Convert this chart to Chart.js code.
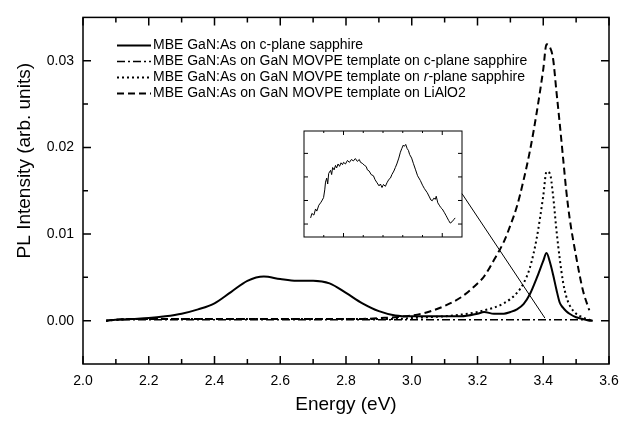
<!DOCTYPE html>
<html>
<head>
<meta charset="utf-8">
<script src="https://cdn.jsdelivr.net/npm/chart.js@4.4.1/dist/chart.umd.min.js"></script>
<style>
  html, body { margin: 0; padding: 0; background: #fff; }
  #wrap { position: relative; width: 630px; height: 423px; }
  #main { position: absolute; left: 0; top: 0; }
  #inset { position: absolute; left: 300px; top: 127px; }
</style>
</head>
<body>
<div id="wrap">
  <canvas id="main" width="630" height="423"></canvas>
  <canvas id="inset" width="166" height="114"></canvas>
</div>
<script>
// photon energy (eV), shared by the four spectra
const energy = [2.07, 2.10, 2.15, 2.20, 2.25, 2.30, 2.35, 2.40, 2.45, 2.50, 2.55, 2.60, 2.65, 2.70, 2.75,
  2.80, 2.85, 2.90, 2.95, 3.00, 3.05, 3.10, 3.15, 3.20, 3.22, 3.25, 3.28, 3.30, 3.32, 3.34, 3.36, 3.38,
  3.40, 3.41, 3.42, 3.43, 3.44, 3.45, 3.46, 3.47, 3.48, 3.50, 3.52, 3.54, 3.55];

const cPlane = [0.0000, 0.0001, 0.0002, 0.0003, 0.0005, 0.0008, 0.0013, 0.0020, 0.0033, 0.0046, 0.0051, 0.0048, 0.0046, 0.0046, 0.0043,
  0.0032, 0.0020, 0.0011, 0.0006, 0.0005, 0.0005, 0.0005, 0.0005, 0.0008, 0.0010, 0.0008, 0.0008, 0.0010, 0.0013, 0.0019, 0.0031, 0.0049,
  0.0069, 0.0078, 0.0068, 0.0053, 0.0036, 0.0021, 0.0015, 0.0011, 0.0008, 0.0004, 0.0002, 0.0000, 0.0000];

const cTemplate = [0.0000, 0.0001, 0.0001, 0.0001, 0.0001, 0.0001, 0.0001, 0.0001, 0.0001, 0.0001, 0.0001, 0.0001, 0.0001, 0.0001, 0.0001,
  0.0001, 0.0001, 0.0001, 0.0001, 0.0001, 0.0001, 0.0001, 0.0001, 0.0001, 0.0001, 0.0001, 0.0001, 0.0001, 0.0001, 0.0001, 0.0001, 0.0001,
  0.0001, 0.0001, 0.0001, 0.0001, 0.0001, 0.0001, 0.0001, 0.0001, 0.0001, 0.0001, 0.0001, 0.0001, 0.0000];

const rTemplate = [0.0000, 0.0001, 0.0002, 0.0002, 0.0002, 0.0002, 0.0002, 0.0002, 0.0002, 0.0002, 0.0002, 0.0002, 0.0002, 0.0002, 0.0002,
  0.0002, 0.0002, 0.0002, 0.0002, 0.0003, 0.0004, 0.0005, 0.0007, 0.0010, 0.0012, 0.0015, 0.0020, 0.0025, 0.0032, 0.0043, 0.0062, 0.0095,
  0.0144, 0.0172, 0.0170, 0.0144, 0.0105, 0.0072, 0.0045, 0.0028, 0.0018, 0.0008, 0.0004, 0.0001, 0.0000];

const liAlO2 = [0.0000, 0.0001, 0.0002, 0.0002, 0.0002, 0.0002, 0.0002, 0.0002, 0.0002, 0.0002, 0.0002, 0.0002, 0.0002, 0.0002, 0.0002,
  0.0002, 0.0002, 0.0003, 0.0004, 0.0006, 0.0010, 0.0017, 0.0027, 0.0043, 0.0051, 0.0070, 0.0091, 0.0110, 0.0132, 0.0162, 0.0197, 0.0240,
  0.0290, 0.0319, 0.0316, 0.0302, 0.0265, 0.0228, 0.0189, 0.0150, 0.0119, 0.0074, 0.0036, 0.0012, null];

const labels = [
  'MBE GaN:As on c-plane sapphire',
  'MBE GaN:As on GaN MOVPE template on c-plane sapphire',
  'MBE GaN:As on GaN MOVPE template on r-plane sapphire',
  'MBE GaN:As on GaN MOVPE template on LiAlO2'
];

const xMajor = [2.0, 2.2, 2.4, 2.6, 2.8, 3.0, 3.2, 3.4, 3.6];
const xMinor = [2.1, 2.3, 2.5, 2.7, 2.9, 3.1, 3.3, 3.5];
const yMajor = [0.00, 0.01, 0.02, 0.03];
const yMinor = [0.005, 0.015, 0.025];

// inset: magnified weak spectrum (arbitrary units)
const insetX = [1.667, 1.68, 1.70, 1.717, 1.73, 1.75, 1.768, 1.78, 1.798, 1.81, 1.818, 1.83, 1.84, 1.85, 1.869, 1.88,
  1.89, 1.905, 1.919, 1.93, 1.945, 1.96, 1.975, 1.99, 2.00, 2.02, 2.04, 2.06, 2.08, 2.10, 2.12, 2.14, 2.16, 2.172,
  2.19, 2.21, 2.23, 2.242, 2.26, 2.28, 2.303, 2.32, 2.34, 2.36, 2.374, 2.39, 2.405, 2.424, 2.44, 2.46, 2.475, 2.49,
  2.51, 2.525, 2.54, 2.56, 2.576, 2.59, 2.605, 2.616, 2.63, 2.645, 2.657, 2.67, 2.69, 2.707, 2.73, 2.75, 2.778,
  2.80, 2.82, 2.848, 2.87, 2.885, 2.899, 2.915, 2.93, 2.939, 2.955, 2.97, 2.985, 3.00, 3.02, 3.04, 3.051, 3.065,
  3.081, 3.10, 3.115, 3.131];
const insetY = [1.26, 1.45, 1.38, 1.64, 1.55, 1.80, 1.90, 1.98, 2.12, 2.45, 2.78, 2.95, 2.70, 3.15, 3.28, 3.10,
  3.40, 3.30, 3.49, 3.38, 3.55, 3.45, 3.60, 3.52, 3.62, 3.55, 3.70, 3.62, 3.74, 3.68, 3.78, 3.66, 3.74, 3.62,
  3.58, 3.50, 3.44, 3.30, 3.25, 3.10, 3.05, 2.88, 2.75, 2.62, 2.70, 2.55, 2.68, 2.60, 2.75, 2.90, 2.95, 3.10,
  3.25, 3.40, 3.55, 3.80, 4.05, 4.20, 4.35, 4.30, 4.38, 4.20, 4.13, 3.95, 3.80, 3.58, 3.30, 3.05, 2.85,
  2.65, 2.50, 2.33, 2.15, 2.02, 1.99, 2.10, 2.05, 2.18, 1.90, 1.80, 1.70, 1.64, 1.50, 1.35, 1.26, 1.15,
  1.04, 1.10, 1.18, 1.26];
const insetXMajor = [2.0, 3.0];
const insetXMinor = [1.8, 2.2, 2.4, 2.6, 2.8];
const insetYMajor = [1, 2, 3, 4];

const FONT = '"Liberation Sans", Arial, sans-serif';

function frame(cfg) {
  return {
    id: 'frame',
    afterDatasetsDraw(chart) {
      const {ctx, chartArea: a, scales: {x, y}} = chart;
      ctx.save();
      ctx.strokeStyle = '#000';
      ctx.setLineDash([]);
      ctx.lineWidth = cfg.width;
      ctx.strokeRect(a.left, a.top, a.right - a.left, a.bottom - a.top);
      ctx.lineWidth = cfg.tickWidth;
      ctx.beginPath();
      const xt = (vals, len) => vals.forEach(v => {
        const px = x.getPixelForValue(v);
        ctx.moveTo(px, a.bottom); ctx.lineTo(px, a.bottom - len);
        ctx.moveTo(px, a.top); ctx.lineTo(px, a.top + len);
      });
      const yt = (vals, len) => vals.forEach(v => {
        const py = y.getPixelForValue(v);
        ctx.moveTo(a.left, py); ctx.lineTo(a.left + len, py);
        ctx.moveTo(a.right, py); ctx.lineTo(a.right - len, py);
      });
      xt(cfg.xMajor, cfg.major); xt(cfg.xMinor, cfg.minor);
      yt(cfg.yMajor, cfg.major); yt(cfg.yMinor, cfg.minor);
      ctx.stroke();
      ctx.restore();
    }
  };
}

// inset chart
const insetChart = new Chart(document.getElementById('inset'), {
  type: 'line',
  data: {
    datasets: [{
      data: insetX.map((v, i) => ({x: v, y: insetY[i]})),
      borderColor: '#000', borderWidth: 1, pointRadius: 0, tension: 0
    }]
  },
  options: {
    responsive: false, animation: false,
    layout: {padding: 4},
    plugins: {legend: {display: false}, tooltip: {enabled: false}},
    scales: {
      x: {type: 'linear', min: 1.6, max: 3.2, display: false},
      y: {min: 0.45, max: 4.95, display: false}
    }
  },
  plugins: [frame({width: 1, tickWidth: 1, major: 4, minor: 2,
    xMajor: insetXMajor, xMinor: insetXMinor, yMajor: insetYMajor, yMinor: []})]
});

const legendPlugin = {
  id: 'lineLegend',
  afterDraw(chart) {
    const {ctx, chartArea: a} = chart;
    ctx.save();
    ctx.textBaseline = 'middle';
    ctx.fillStyle = '#000';
    chart.data.datasets.forEach((ds, i) => {
      const y = a.top + 28 + i * 16;
      const x0 = a.left + 34;
      ctx.strokeStyle = '#000';
      ctx.lineWidth = ds.borderWidth;
      ctx.setLineDash(ds.borderDash || []);
      ctx.beginPath(); ctx.moveTo(x0, y); ctx.lineTo(x0 + 34, y); ctx.stroke();
      ctx.setLineDash([]);
      // "r" of r-plane is set in italics
      const parts = ds.label.split(/(?=r-plane)/);
      let tx = x0 + 36;
      parts.forEach(p => {
        if (p.startsWith('r-plane')) {
          ctx.font = 'italic 14px ' + FONT;
          ctx.fillText('r', tx, y); tx += ctx.measureText('r').width;
          p = p.slice(1);
        }
        ctx.font = '14px ' + FONT;
        ctx.fillText(p, tx, y); tx += ctx.measureText(p).width;
      });
    });
    ctx.restore();
  }
};

// y title sits a little above the middle of the axis in the original
const yTitle = {
  id: 'yTitle',
  afterDraw(chart) {
    const {ctx, chartArea: a} = chart;
    ctx.save();
    ctx.translate(25, (a.top + a.bottom) / 2 - 30);
    ctx.rotate(-Math.PI / 2);
    ctx.font = '19px ' + FONT;
    ctx.fillStyle = '#000';
    ctx.textAlign = 'center';
    ctx.textBaseline = 'middle';
    ctx.fillText('PL Intensity (arb. units)', 0, 0);
    ctx.restore();
  }
};

// thin pointer from the inset to the band edge
const connector = {
  id: 'connector',
  afterDraw(chart) {
    const {ctx, scales: {x, y}} = chart;
    const ia = insetChart.chartArea;
    const el = document.getElementById('inset');
    const x0 = el.offsetLeft + ia.right;
    const y0 = el.offsetTop + insetChart.scales.y.getPixelForValue(2.29);
    ctx.save();
    ctx.strokeStyle = '#000'; ctx.lineWidth = 1;
    ctx.beginPath();
    ctx.moveTo(x0, y0);
    ctx.lineTo(x.getPixelForValue(3.405), y.getPixelForValue(0.0003));
    ctx.stroke();
    ctx.restore();
  }
};

const series = [
  {label: labels[0], values: cPlane, width: 2, dash: []},
  {label: labels[1], values: cTemplate, width: 1.5, dash: [8, 3, 2, 3]},
  {label: labels[2], values: rTemplate, width: 2, dash: [2, 3]},
  {label: labels[3], values: liAlO2, width: 2, dash: [7, 4]}
];

new Chart(document.getElementById('main'), {
  type: 'line',
  data: {
    datasets: series.map(s => ({
      label: s.label,
      data: energy.map((e, i) => ({x: e, y: s.values[i]})),
      borderColor: '#000',
      borderWidth: s.width,
      borderDash: s.dash,
      pointRadius: 0,
      cubicInterpolationMode: 'monotone',
      spanGaps: false
    }))
  },
  options: {
    responsive: false, animation: false,
    layout: {padding: {top: 12, right: 21, left: 0, bottom: 0}},
    plugins: {legend: {display: false}, tooltip: {enabled: false}},
    scales: {
      x: {
        type: 'linear', min: 2.0, max: 3.6,
        afterBuildTicks: s => { s.ticks = xMajor.map(v => ({value: v})); },
        afterFit: s => { s.height = 59; },
        grid: {display: false, drawTicks: false},
        border: {display: false},
        ticks: {
          autoSkip: false, maxRotation: 0, padding: 9, color: '#000',
          font: {family: FONT, size: 14},
          callback: v => v.toFixed(1)
        },
        title: {display: true, text: 'Energy (eV)', color: '#000',
          font: {family: FONT, size: 19}, padding: {top: 0, bottom: 7}}
      },
      y: {
        min: -0.005, max: 0.035,
        afterBuildTicks: s => { s.ticks = yMajor.map(v => ({value: v})); },
        afterFit: s => { s.width = 83; },
        grid: {display: false, drawTicks: false},
        border: {display: false},
        ticks: {
          padding: 9, color: '#000',
          font: {family: FONT, size: 14},
          callback: v => v.toFixed(2)
        },
        title: {display: false}
      }
    }
  },
  plugins: [frame({width: 1.5, tickWidth: 1.5, major: 8, minor: 5,
    xMajor, xMinor, yMajor, yMinor}), legendPlugin, yTitle, connector]
});
</script>
</body>
</html>
